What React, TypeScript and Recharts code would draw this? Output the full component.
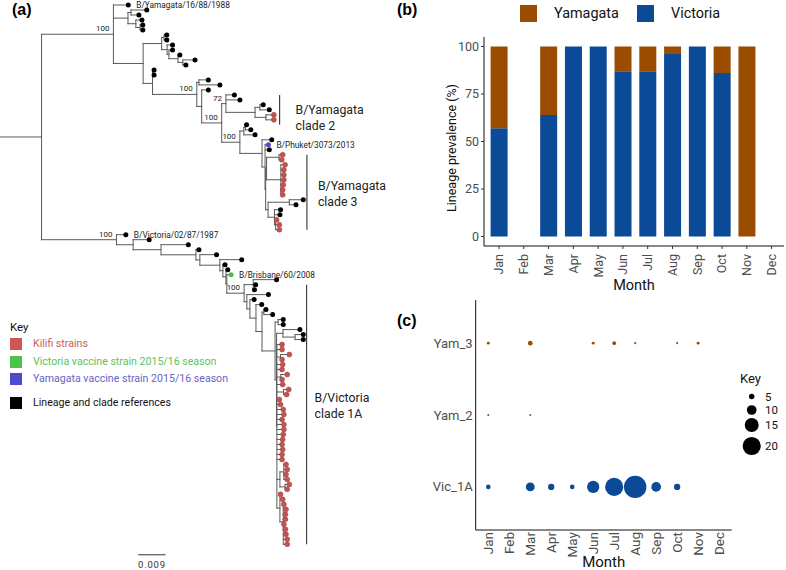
import React from "react";
import { BarChart, Bar, ScatterChart, Scatter, XAxis, YAxis, ReferenceLine, Label } from "recharts";

// ---------------- Panel (b): lineage prevalence per month ----------------
const months = ["Jan", "Feb", "Mar", "Apr", "May", "Jun", "Jul", "Aug", "Sep", "Oct", "Nov", "Dec"];
const victoriaPct: (number | null)[] = [57, null, 64, 100, 100, 87, 87, 96, 100, 86, 0, null];
const yamagataPct: (number | null)[] = [43, null, 36, 0, 0, 13, 13, 4, 0, 14, 100, null];
const prevalenceTicks = [0, 25, 50, 75, 100];

// ---------------- Panel (c): clade counts per month ----------------
const lineages = ["Vic_1A", "Yam_2", "Yam_3"];
const vic1aCounts = [4, 0, 9, 6, 4, 13, 20, 25, 10, 6, 0, 0];
const yam2Counts = [1, 0, 1, 0, 0, 0, 0, 0, 0, 0, 0, 0];
const yam3Counts = [2, 0, 4, 0, 0, 2, 3, 1, 0, 1, 2, 0];
const sizeKeyValues = [5, 10, 15, 20];

// ---------------- Panel (a): phylogeny ----------------
// depths = cumulative distance from the root, in units of 0.001 substitutions/site
type TNode = { d: number; kids?: TNode[]; g?: string; name?: string; bs?: number };
const T = (d: number, g = "R", name?: string): TNode => ({ d, g, name });
const K = (d: number): TNode => ({ d, g: "K" });
const N = (d: number, kids: TNode[], bs?: number): TNode => ({ d, kids, bs });

const yamClade3 = N(86.4, [
  T(89.6),
  N(87.4, [
    T(88.5, "Y", "B/Phuket/3073/2013"),
    T(88.8),
    N(87.6, [
      N(87.9, [N(92.0, [K(93.2), K(92.9)]), N(92.6, [K(94.0), K(93.6), K(93.6), K(93.6), K(93.4), K(93.2), K(93.2)])]),
      N(88.4, [N(95.4, [T(100.0), T(97.6)]), N(90.5, [T(92.5), T(92.3), N(90.9, [K(91.2), K(92.1), K(92.1)])])]),
    ]),
  ]),
]);
const yamClade2 = N(74.5, [T(77.3), T(79.1), N(84.1, [N(85.7, [T(86.8), T(88.8)]), N(87.7, [K(90.3), K(90.3)])])], 72);
const yamN9 = N(79.1, [N(80.4, [N(80.9, [T(81.3), T(82.7)]), T(84.1)]), yamClade3], 100);
const yamN8 = N(73.1, [yamClade2, yamN9], 100);
const yamN6 = N(66.5, [T(68.7), yamN8]);
const yamN5 = N(64.9, [N(65.6, [T(68.7), T(72.5)]), yamN6], 100);
const yamN4 = N(50.3, [N(50.5, [T(50.8), T(50.8)]), yamN5]);
const yamN3 = N(53.3, [
  N(54.1, [T(55.0), T(55.0)]),
  N(55.1, [T(56.9), N(55.7, [T(56.9), N(58.7, [T(59.3), N(60.3, [T(64.3), T(61.3)])])])]),
]);
const yamN1 = N(42.2, [N(43.2, [T(48.4), T(45.8)]), N(44.8, [T(46.8), N(46.2, [T(47.1), T(47.1)])])]);
const yamagata = N(37.4, [T(42.3, "R", "B/Yamagata/16/88/1988"), yamN1, N(47.2, [yamN3, yamN4])], 100);

const vicKilifi = N(91.3, [
  K(93.0), K(93.0), N(92.5, [K(95.4), K(93.0)]), K(93.2), K(93.0), N(92.6, [K(94.7), K(93.0)]), K(93.2),
  N(93.5, [K(95.2), K(94.5)]), K(92.1), K(92.5), K(93.4), K(93.6), K(93.0), K(93.6), K(93.6), K(93.4), K(93.2),
  K(93.0), K(93.2), K(93.0), K(93.0),
  N(92.3, [N(93.6, [K(94.3), K(94.7), K(94.3), K(94.7)]), N(94.0, [K(95.4), K(94.7)])]),
  N(92.3, [K(92.5), N(93.4, [K(93.2), K(93.6), K(94.3), K(94.1), K(94.1), K(93.6), K(94.1), K(94.3), K(94.7), K(94.7)])]),
]);
const vicVP = N(91.2, [N(93.3, [T(98.9), N(97.3, [T(100.0), T(100.0)])]), vicKilifi]);
const vicVO = N(90.7, [N(91.7, [T(93.4), T(93.4)]), vicVP]);
const vicVN = N(86.4, [N(87.0, [T(87.7), T(89.9)]), vicVO]);
const vicVM = N(84.4, [T(86.3), vicVN]);
const vicVL = N(82.4, [T(83.8), vicVM]);
const vicVK = N(81.4, [T(88.5), vicVL]);
const vicVJ = N(83.5, [T(91.2), T(84.3), T(83.9)]);
const vicVI = N(80.5, [vicVJ, vicVK], 100);
const vicVH = N(74.8, [T(76.2, "V", "B/Brisbane/60/2008"), vicVI]);
const vicVG = N(74.5, [T(75.1), vicVH]);
const vicVF = N(73.5, [T(74.2), vicVG]);
const vicVE = N(72.5, [T(79.7), vicVF]);
const vicVD = N(65.9, [T(71.4), vicVE]);
const vicVC = N(64.6, [T(65.6), vicVD]);
const vicVB = N(53.1, [T(62.1), vicVC]);
const vicVA = N(43.9, [T(49.2), vicVB]);
const victoria = N(38.4, [T(41.5, "R", "B/Victoria/02/87/1987"), vicVA], 100);
const treeRoot = N(13.7, [yamagata, victoria]);

const cladeLabels = [["B/Yamagata", "clade 2"], ["B/Yamagata", "clade 3"], ["B/Victoria", "clade 1A"]];
const cladeBarDepth = [92.2, 101.2, 101.1];
const cladeTipRange = [[18, 24], [30, 45], [56, 108]];
const scaleBarStart = 45.6;
const scaleBarLength = 9; // 0.009
const scaleBarLabel = "0.009";
const treeKeyLabels = [
  "Kilifi strains",
  "Victoria vaccine strain 2015/16 season",
  "Yamagata vaccine strain 2015/16 season",
  "Lineage and clade references",
];

// ---------------- styles ----------------
const VIC = "#0a4a97";
const YAM = "#9a4c00";
const TIP_COLORS: Record<string, string> = { K: "#c25552", V: "#4cbb4c", Y: "#4b4bcc", R: "#000000" };
const KEY_SWATCH = ["#cc5555", "#4cc44c", "#4b4bcc", "#000000"];
const KEY_TEXT = ["#c45e5c", "#5cc25c", "#6464c4", "#111111"];
const KEY_ROW_Y = [344, 361.7, 379.3, 403.3];
const SIZE_KEY_ROW_Y = [8.5, 22, 37, 58];
const CLADE_DX = [16, 11, 8];
const CLADE_DY = [0, -7, -17];
const FONT = "Roboto, 'Open Sans', sans-serif";
const AXIS_GREY = "#4d4d4d";

// ---------------- tree layout (rectangular cladogram) ----------------
type Seg = { x1: number; x2: number; y1: number; y2: number };
function layoutTree(root: TNode) {
  const segs: Seg[] = [];
  const tips: { x: number; y: number; g: string; name?: string }[] = [];
  const supports: { x: number; y: number; label: string }[] = [];
  let next = 0;
  const visit = (n: TNode, parentD: number): number => {
    let y: number;
    if (!n.kids) {
      y = next++;
      tips.push({ x: n.d, y, g: n.g || "R", name: n.name });
    } else {
      const ys = n.kids.map((k) => visit(k, n.d));
      y = (ys[0] + ys[ys.length - 1]) / 2;
      segs.push({ x1: n.d, x2: n.d, y1: ys[0], y2: ys[ys.length - 1] });
      if (n.bs !== undefined) supports.push({ x: n.d, y, label: String(n.bs) });
    }
    segs.push({ x1: parentD, x2: n.d, y1: y, y2: y });
    return y;
  };
  visit(root, 0);
  return { segs, tips, supports, nTips: next };
}
const tree = layoutTree(treeRoot);
const tipGroups = ["R", "K", "V", "Y"];
const cladeData = cladeLabels.map((lines, i) => ({
  x: cladeBarDepth[i],
  y: (cladeTipRange[i][0] + cladeTipRange[i][1]) / 2,
  lines,
  i,
}));

const prevalenceData = months.map((m, i) => ({ month: m, victoria: victoriaPct[i], yamagata: yamagataPct[i] }));
const bubbleSeries = [vic1aCounts, yam2Counts, yam3Counts].map((counts, row) =>
  counts
    .map((c, m) => ({ month: m + 1, row: row + 1, count: c }))
    .filter((p) => p.count > 0)
);
const bubbleRadius = (v: number) => 0.425 * v + 0.6;

const RotTick = (props: any) => {
  const { x, y, payload, fs, numeric } = props;
  const text = numeric ? months[payload.value - 1] : payload.value;
  return (
    <text x={x} y={y} transform={`rotate(-90 ${x} ${y})`} textAnchor="end" dy="0.35em" fontSize={fs} fill={AXIS_GREY} fontFamily={FONT}>
      {text}
    </text>
  );
};

function TreePanel() {
  return (
    <ScatterChart width={400} height={570} margin={{ top: 5, right: 66.4, bottom: 25.7, left: 0 }}>
      <XAxis type="number" dataKey="x" domain={[0, 110]} hide />
      <YAxis type="number" dataKey="y" domain={[0, tree.nTips - 1]} reversed hide />
      {tree.segs.map((s, i) => (
        <ReferenceLine
          key={"s" + i}
          segment={[{ x: s.x1, y: s.y1 }, { x: s.x2, y: s.y2 }]}
          stroke="#5a5a5a"
          strokeWidth={1}
          strokeLinecap="square"
          ifOverflow="visible"
        />
      ))}
      {cladeData.map((c) => (
        <ReferenceLine
          key={"c" + c.i}
          segment={[{ x: c.x, y: cladeTipRange[c.i][0] }, { x: c.x, y: cladeTipRange[c.i][1] }]}
          stroke="#333"
          strokeWidth={1.1}
          ifOverflow="visible"
        />
      ))}
      <ReferenceLine
        segment={[{ x: scaleBarStart, y: tree.nTips + 1.1 }, { x: scaleBarStart + scaleBarLength, y: tree.nTips + 1.1 }]}
        stroke="#333"
        strokeWidth={1}
        ifOverflow="visible"
        label={(p: any) => {
          const vb = p.viewBox || {};
          return (
            <text x={vb.x + (vb.width || 0) / 2} y={vb.y + 10} dy="0.35em" textAnchor="middle" fontSize={9.5} letterSpacing={0.8} fill="#333" fontFamily={FONT}>
              {scaleBarLabel}
            </text>
          );
        }}
      />
      {tipGroups.map((g) => (
        <Scatter
          key={g}
          data={tree.tips.filter((t) => t.g === g)}
          isAnimationActive={false}
          shape={(p: any) => <circle cx={p.cx} cy={p.cy} r={2.5} fill={TIP_COLORS[g]} stroke={g === "K" ? "#9b3c3a" : "none"} strokeWidth={0.5} />}
        />
      ))}
      <Scatter
        data={tree.tips.filter((t) => t.name)}
        isAnimationActive={false}
        shape={(p: any) => (
          <text x={p.cx + 8} y={p.cy} dy="0.35em" fontSize={8.3} fill="#222" fontFamily={FONT}>
            {p.payload.name}
          </text>
        )}
      />
      <Scatter
        data={tree.supports}
        isAnimationActive={false}
        shape={(p: any) => (
          <text x={p.cx - 4} y={p.cy - 3} textAnchor="end" fontSize={8} fill="#222" fontFamily={FONT}>
            {p.payload.label}
          </text>
        )}
      />
      <Scatter
        data={cladeData}
        isAnimationActive={false}
        shape={(p: any) => {
          const i = p.payload.i;
          return (
            <text x={p.cx + CLADE_DX[i]} y={p.cy + CLADE_DY[i]} fontSize={12.3} fill="#222" fontFamily={FONT}>
              <tspan x={p.cx + CLADE_DX[i]} dy="0.35em">{p.payload.lines[0]}</tspan>
              <tspan x={p.cx + CLADE_DX[i]} dy="16">{p.payload.lines[1]}</tspan>
            </text>
          );
        }}
      />
    </ScatterChart>
  );
}

function PrevalencePanel() {
  return (
    <BarChart width={366} height={300} data={prevalenceData} margin={{ top: 37, right: 2, bottom: 0, left: 0 }} barSize={17}>
      <XAxis
        dataKey="month"
        interval={0}
        height={54}
        padding={{ left: 2.6, right: 0 }}
        tickSize={3}
        tickMargin={5}
        axisLine={{ stroke: "#111", strokeWidth: 1 }}
        tickLine={{ stroke: "#333" }}
        tick={<RotTick fs={12.5} />}
      >
        <Label
          content={(p: any) => {
            const vb = p.viewBox;
            return (
              <text x={vb.x + vb.width / 2} y={vb.y + 39} dy="0.35em" textAnchor="middle" fontSize={14.5} fill="#111" fontFamily={FONT}>
                Month
              </text>
            );
          }}
        />
      </XAxis>
      <YAxis
        type="number"
        domain={[-5, 105]}
        ticks={prevalenceTicks}
        width={64}
        tickSize={3}
        tickMargin={2}
        axisLine={{ stroke: "#111", strokeWidth: 1 }}
        tickLine={{ stroke: "#333" }}
        tick={{ fontSize: 12.5, fill: AXIS_GREY, fontFamily: FONT }}
      >
        <Label
          content={(p: any) => {
            const vb = p.viewBox;
            const cx = vb.x + 31.7;
            const cy = vb.y + vb.height / 2 + 6.5;
            return (
              <text x={cx} y={cy} transform={`rotate(-90 ${cx} ${cy})`} dy="0.35em" textAnchor="middle" fontSize={12.5} fill="#111" fontFamily={FONT}>
                Lineage prevalence (%)
              </text>
            );
          }}
        />
      </YAxis>
      <Bar dataKey="victoria" stackId="a" fill={VIC} isAnimationActive={false} />
      <Bar dataKey="yamagata" stackId="a" fill={YAM} isAnimationActive={false} />
    </BarChart>
  );
}

function BubblePanel() {
  const colors = [VIC, YAM, YAM];
  return (
    <ScatterChart width={366} height={280} margin={{ top: 10, right: 54.3, bottom: 0, left: 0 }}>
      <XAxis
        type="number"
        dataKey="month"
        domain={[0.4, 12.6]}
        ticks={months.map((_, i) => i + 1)}
        interval={0}
        height={40}
        tickSize={0}
        tickMargin={2}
        tickLine={false}
        axisLine={{ stroke: "#111", strokeWidth: 1 }}
        tick={<RotTick fs={13.5} numeric />}
      >
        <Label
          content={(p: any) => {
            const vb = p.viewBox;
            return (
              <text x={vb.x + vb.width / 2} y={vb.y + 32} dy="0.35em" textAnchor="middle" fontSize={15} fill="#111" fontFamily={FONT}>
                Month
              </text>
            );
          }}
        />
      </XAxis>
      <YAxis
        type="number"
        dataKey="row"
        domain={[0.4, 3.6]}
        ticks={[1, 2, 3]}
        width={55.7}
        tickSize={0}
        tickMargin={3}
        tickLine={false}
        axisLine={{ stroke: "#111", strokeWidth: 1 }}
        tickFormatter={(v: number) => lineages[v - 1]}
        tick={{ fontSize: 13, fill: AXIS_GREY, fontFamily: FONT }}
      />
      {bubbleSeries.map((data, s) => (
        <Scatter
          key={s}
          data={data}
          isAnimationActive={false}
          shape={(p: any) => <circle cx={p.cx} cy={p.cy} r={bubbleRadius(p.payload.count)} fill={colors[s]} />}
        />
      ))}
    </ScatterChart>
  );
}

const abs = (left: number, top: number, extra: React.CSSProperties = {}): React.CSSProperties => ({
  position: "absolute",
  left,
  top,
  ...extra,
});

export default function App() {
  return (
    <div style={{ position: "absolute", left: 0, top: 0, width: 786, height: 570, background: "#fff", fontFamily: FONT, overflow: "hidden" }}>
      <div style={abs(0, 0)}>
        <TreePanel />
      </div>
      <div style={abs(420, 0)}>
        <PrevalencePanel />
      </div>
      <div style={abs(420, 290)}>
        <BubblePanel />
      </div>

      {/* panel letters */}
      <div style={abs(12, 0, { fontFamily: "'Liberation Sans', Arial, sans-serif", fontSize: 16, lineHeight: "20px", fontWeight: 700 })}>(a)</div>
      <div style={abs(397, 0, { fontFamily: "'Liberation Sans', Arial, sans-serif", fontSize: 16, lineHeight: "20px", fontWeight: 700 })}>(b)</div>
      <div style={abs(397, 311, { fontFamily: "'Liberation Sans', Arial, sans-serif", fontSize: 16, lineHeight: "20px", fontWeight: 700 })}>(c)</div>

      {/* tree key */}
      <div style={abs(10, 320, { fontSize: 11.5, lineHeight: "14px", color: "#111" })}>Key</div>
      {treeKeyLabels.map((t, i) => (
        <React.Fragment key={t}>
          <div style={abs(10, KEY_ROW_Y[i] - 6, { width: 12, height: 12, background: KEY_SWATCH[i] })} />
          <div style={abs(33, KEY_ROW_Y[i] - 7, { fontSize: 10.6, lineHeight: "14px", color: KEY_TEXT[i], whiteSpace: "nowrap" })}>{t}</div>
        </React.Fragment>
      ))}

      {/* legend of panel (b) */}
      <div style={abs(520, 5, { width: 17, height: 17, background: YAM })} />
      <div style={abs(554, 4, { fontSize: 14.4, lineHeight: "20px", color: "#111" })}>Yamagata</div>
      <div style={abs(637, 5, { width: 17, height: 17, background: VIC })} />
      <div style={abs(671, 4, { fontSize: 14.4, lineHeight: "20px", color: "#111" })}>Victoria</div>

      {/* size key of panel (c) */}
      <div style={abs(740, 370, { fontSize: 13, lineHeight: "18px", color: "#111" })}>Key</div>
      <svg style={abs(740, 388)} width={46} height={70}>
        {sizeKeyValues.map((v, i) => (
          <g key={v}>
            <circle cx={11.7} cy={SIZE_KEY_ROW_Y[i]} r={bubbleRadius(v)} fill="#000" />
            <text x={25} y={SIZE_KEY_ROW_Y[i]} dy="0.35em" fontSize={11.5} fill="#111" fontFamily={FONT}>
              {v}
            </text>
          </g>
        ))}
      </svg>
    </div>
  );
}
